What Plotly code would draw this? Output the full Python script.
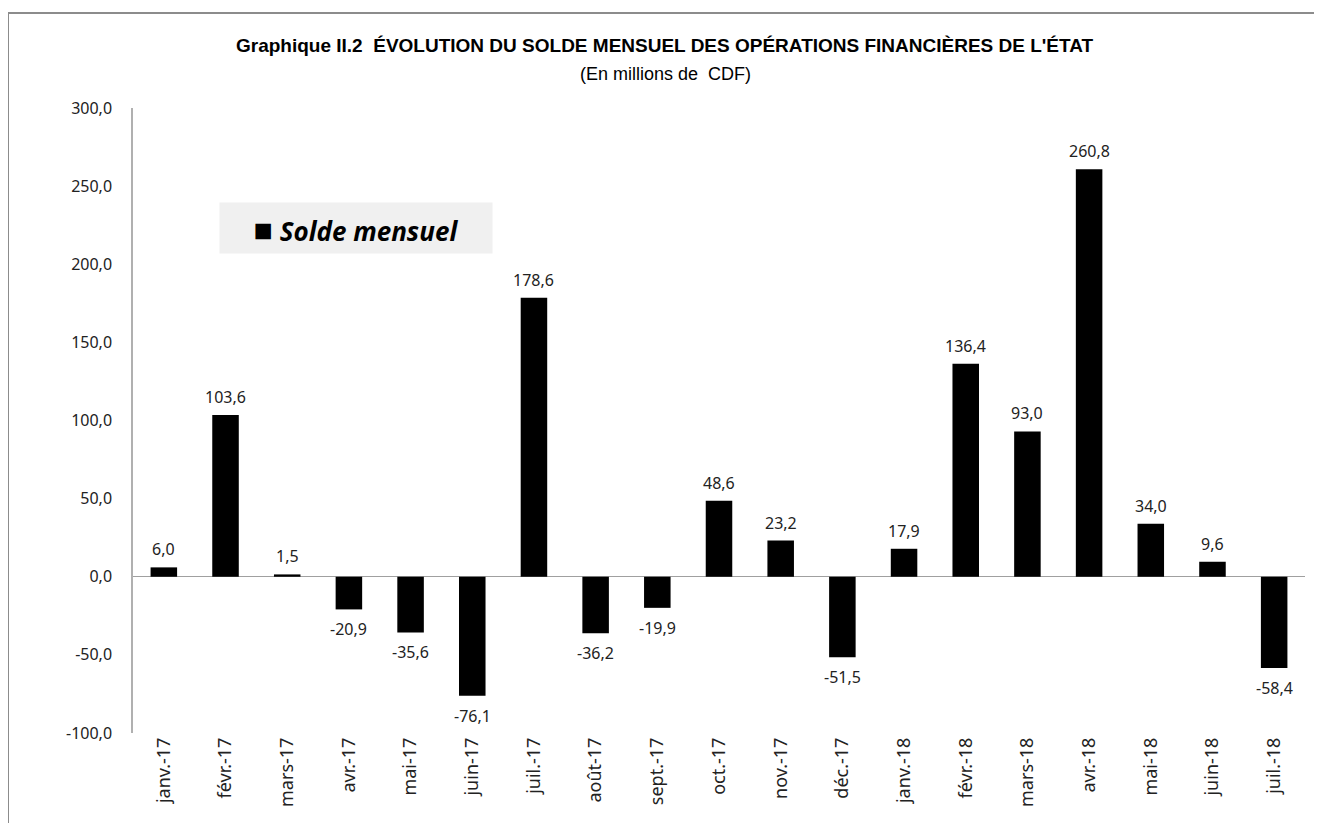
import plotly.graph_objects as go

months = ["janv.-17", "févr.-17", "mars-17", "avr.-17", "mai-17", "juin-17", "juil.-17",
          "août-17", "sept.-17", "oct.-17", "nov.-17", "déc.-17", "janv.-18", "févr.-18",
          "mars-18", "avr.-18", "mai-18", "juin-18", "juil.-18"]
solde = [6.0, 103.6, 1.5, -20.9, -35.6, -76.1, 178.6, -36.2, -19.9, 48.6, 23.2, -51.5,
         17.9, 136.4, 93.0, 260.8, 34.0, 9.6, -58.4]
y_ticks = [-100, -50, 0, 50, 100, 150, 200, 250, 300]

def fmt(v):
    return f"{v:.1f}".replace(".", ",")

labels = [fmt(v) for v in solde]
y_ticktext = [fmt(v) for v in y_ticks]

# page body offsets the figure by 8px
OFF = 8
W, H = 1322, 823
ml, mr, mt, mb = 133 - OFF, 25, 108 - OFF, 98
pw = W - ml - mr
ph = H - mt - mb

FONT = "Noto Sans, Open Sans, sans-serif"

fig = go.Figure()
fig.add_trace(go.Bar(
    x=months, y=solde, name="Solde mensuel",
    marker=dict(color="black", line=dict(width=0)),
    width=0.43,
    showlegend=False,
))

def px_x(p):
    return (p - OFF - ml) / pw

def px_y(p):
    return 1 - (p - OFF - mt) / ph

annotations = [
    dict(x=m, y=v, text=t, xref="x", yref="y", showarrow=False,
         yshift=18 if v >= 0 else -20, xanchor="center", yanchor="middle",
         font=dict(family=FONT, size=16, color="#222"))
    for m, v, t in zip(months, solde, labels)
]

annotations += [
    dict(text="<b>Graphique II.2  ÉVOLUTION DU SOLDE MENSUEL DES OPÉRATIONS FINANCIÈRES DE L'ÉTAT</b>",
         xref="paper", yref="paper", x=px_x(665), y=px_y(45), showarrow=False,
         xanchor="center", yanchor="middle",
         font=dict(family="Liberation Sans Narrow, Arial Narrow, Liberation Sans, sans-serif", size=19, color="black")),
    dict(text="(En millions de  CDF)",
         xref="paper", yref="paper", x=px_x(665), y=px_y(74), showarrow=False,
         xanchor="center", yanchor="middle",
         font=dict(family="Liberation Sans Narrow, Arial Narrow, Liberation Sans, sans-serif", size=18, color="black")),
    dict(text="<span style='font-size:32px'>■</span> <b><i>Solde mensuel</i></b>",
         xref="paper", yref="paper", x=px_x(356), y=px_y(228), showarrow=False,
         xanchor="center", yanchor="middle",
         bgcolor="#f0f0f0", borderpad=10, width=252, height=30,
         font=dict(family=FONT, size=26, color="black")),
]

fig.update_layout(
    width=W, height=H,
    margin=dict(l=ml, r=mr, t=mt, b=mb),
    plot_bgcolor="white", paper_bgcolor="white",
    xaxis=dict(
        tickangle=-90, showline=False, showgrid=False, ticks="",
        tickfont=dict(family=FONT, size=18, color="#222"),
        range=[-0.5, len(months) - 0.5],
    ),
    yaxis=dict(
        range=[-100, 300], tickvals=y_ticks, ticktext=y_ticktext,
        showline=True, linecolor="#b0b0b0", linewidth=1.5,
        showgrid=False, zeroline=True, zerolinecolor="#a0a0a0", zerolinewidth=1,
        ticks="", ticklabelstandoff=16,
        tickfont=dict(family=FONT, size=16, color="#222"),
    ),
    annotations=annotations,
    shapes=[
        dict(type="line", xref="paper", yref="paper", x0=px_x(8), x1=px_x(W + 20), y0=px_y(13), y1=px_y(13),
             line=dict(color="#8c8c8c", width=2)),
        dict(type="line", xref="paper", yref="paper", x0=px_x(8), x1=px_x(8), y0=px_y(13), y1=px_y(H + 20),
             line=dict(color="#8c8c8c", width=2)),
    ],
)

fig.write_html("out.html")
